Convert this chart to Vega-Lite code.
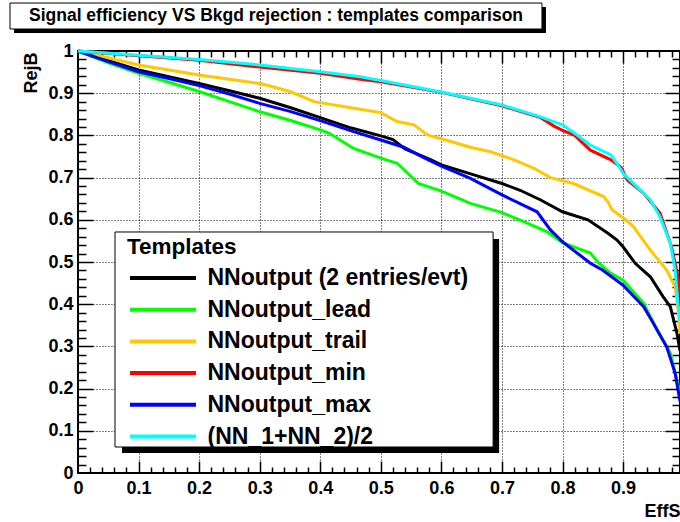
{
  "$schema": "https://vega.github.io/schema/vega-lite/v6.json",
  "width": 602,
  "height": 422,
  "autosize": {"type": "none"},
  "padding": {"left": 78, "top": 51, "right": 0, "bottom": 49},
  "background": "white",
  "config": {
    "font": "Liberation Sans",
    "view": {"stroke": "black", "strokeWidth": 2},
    "axis": {"labelFont": "Liberation Sans", "titleFont": "Liberation Sans", "labelColor": "black", "titleColor": "black"}
  },
  "title": {
    "text": "Signal efficiency VS Bkgd rejection : templates comparison",
    "anchor": "start",
    "frame": "group",
    "dx": -49,
    "offset": -36,
    "baseline": "alphabetic",
    "fontSize": 17.5,
    "font": "Liberation Sans",
    "fontWeight": "bold",
    "color": "black"
  },
  "data": {
    "values": [
      {"template": "NNoutput (2 entries/evt)", "EffS": 0, "RejB": 1},
      {"template": "NNoutput (2 entries/evt)", "EffS": 0.05, "RejB": 0.977},
      {"template": "NNoutput (2 entries/evt)", "EffS": 0.1, "RejB": 0.955},
      {"template": "NNoutput (2 entries/evt)", "EffS": 0.15, "RejB": 0.939},
      {"template": "NNoutput (2 entries/evt)", "EffS": 0.2, "RejB": 0.923},
      {"template": "NNoutput (2 entries/evt)", "EffS": 0.25, "RejB": 0.906},
      {"template": "NNoutput (2 entries/evt)", "EffS": 0.3, "RejB": 0.888},
      {"template": "NNoutput (2 entries/evt)", "EffS": 0.35, "RejB": 0.866},
      {"template": "NNoutput (2 entries/evt)", "EffS": 0.4, "RejB": 0.842},
      {"template": "NNoutput (2 entries/evt)", "EffS": 0.45, "RejB": 0.818},
      {"template": "NNoutput (2 entries/evt)", "EffS": 0.5, "RejB": 0.799},
      {"template": "NNoutput (2 entries/evt)", "EffS": 0.52, "RejB": 0.79},
      {"template": "NNoutput (2 entries/evt)", "EffS": 0.54, "RejB": 0.768},
      {"template": "NNoutput (2 entries/evt)", "EffS": 0.583, "RejB": 0.742},
      {"template": "NNoutput (2 entries/evt)", "EffS": 0.6, "RejB": 0.73},
      {"template": "NNoutput (2 entries/evt)", "EffS": 0.655, "RejB": 0.706},
      {"template": "NNoutput (2 entries/evt)", "EffS": 0.7, "RejB": 0.686},
      {"template": "NNoutput (2 entries/evt)", "EffS": 0.73, "RejB": 0.67},
      {"template": "NNoutput (2 entries/evt)", "EffS": 0.764, "RejB": 0.647},
      {"template": "NNoutput (2 entries/evt)", "EffS": 0.8, "RejB": 0.619},
      {"template": "NNoutput (2 entries/evt)", "EffS": 0.842, "RejB": 0.6},
      {"template": "NNoutput (2 entries/evt)", "EffS": 0.875, "RejB": 0.568},
      {"template": "NNoutput (2 entries/evt)", "EffS": 0.89, "RejB": 0.552},
      {"template": "NNoutput (2 entries/evt)", "EffS": 0.9, "RejB": 0.536},
      {"template": "NNoutput (2 entries/evt)", "EffS": 0.92, "RejB": 0.497},
      {"template": "NNoutput (2 entries/evt)", "EffS": 0.945, "RejB": 0.465},
      {"template": "NNoutput (2 entries/evt)", "EffS": 0.966, "RejB": 0.418},
      {"template": "NNoutput (2 entries/evt)", "EffS": 0.978, "RejB": 0.394},
      {"template": "NNoutput (2 entries/evt)", "EffS": 0.989, "RejB": 0.331},
      {"template": "NNoutput (2 entries/evt)", "EffS": 0.994, "RejB": 0.29},

      {"template": "NNoutput_lead", "EffS": 0, "RejB": 1},
      {"template": "NNoutput_lead", "EffS": 0.05, "RejB": 0.972},
      {"template": "NNoutput_lead", "EffS": 0.1, "RejB": 0.947},
      {"template": "NNoutput_lead", "EffS": 0.15, "RejB": 0.926},
      {"template": "NNoutput_lead", "EffS": 0.2, "RejB": 0.904},
      {"template": "NNoutput_lead", "EffS": 0.25, "RejB": 0.88},
      {"template": "NNoutput_lead", "EffS": 0.3, "RejB": 0.856},
      {"template": "NNoutput_lead", "EffS": 0.35, "RejB": 0.836},
      {"template": "NNoutput_lead", "EffS": 0.4, "RejB": 0.813},
      {"template": "NNoutput_lead", "EffS": 0.415, "RejB": 0.805},
      {"template": "NNoutput_lead", "EffS": 0.455, "RejB": 0.769},
      {"template": "NNoutput_lead", "EffS": 0.5, "RejB": 0.746},
      {"template": "NNoutput_lead", "EffS": 0.527, "RejB": 0.734},
      {"template": "NNoutput_lead", "EffS": 0.562, "RejB": 0.686},
      {"template": "NNoutput_lead", "EffS": 0.6, "RejB": 0.668},
      {"template": "NNoutput_lead", "EffS": 0.648, "RejB": 0.639},
      {"template": "NNoutput_lead", "EffS": 0.7, "RejB": 0.617},
      {"template": "NNoutput_lead", "EffS": 0.735, "RejB": 0.596},
      {"template": "NNoutput_lead", "EffS": 0.774, "RejB": 0.572},
      {"template": "NNoutput_lead", "EffS": 0.8, "RejB": 0.546},
      {"template": "NNoutput_lead", "EffS": 0.846, "RejB": 0.521},
      {"template": "NNoutput_lead", "EffS": 0.86, "RejB": 0.497},
      {"template": "NNoutput_lead", "EffS": 0.88, "RejB": 0.473},
      {"template": "NNoutput_lead", "EffS": 0.9, "RejB": 0.457},
      {"template": "NNoutput_lead", "EffS": 0.934, "RejB": 0.402},
      {"template": "NNoutput_lead", "EffS": 0.956, "RejB": 0.339},
      {"template": "NNoutput_lead", "EffS": 0.978, "RejB": 0.284},
      {"template": "NNoutput_lead", "EffS": 0.99, "RejB": 0.213},
      {"template": "NNoutput_lead", "EffS": 0.994, "RejB": 0.19},

      {"template": "NNoutput_trail", "EffS": 0, "RejB": 1},
      {"template": "NNoutput_trail", "EffS": 0.05, "RejB": 0.984},
      {"template": "NNoutput_trail", "EffS": 0.1, "RejB": 0.967},
      {"template": "NNoutput_trail", "EffS": 0.15, "RejB": 0.955},
      {"template": "NNoutput_trail", "EffS": 0.2, "RejB": 0.943},
      {"template": "NNoutput_trail", "EffS": 0.25, "RejB": 0.933},
      {"template": "NNoutput_trail", "EffS": 0.3, "RejB": 0.923},
      {"template": "NNoutput_trail", "EffS": 0.317, "RejB": 0.917},
      {"template": "NNoutput_trail", "EffS": 0.35, "RejB": 0.904},
      {"template": "NNoutput_trail", "EffS": 0.39, "RejB": 0.88},
      {"template": "NNoutput_trail", "EffS": 0.466, "RejB": 0.862},
      {"template": "NNoutput_trail", "EffS": 0.5, "RejB": 0.854},
      {"template": "NNoutput_trail", "EffS": 0.527, "RejB": 0.833},
      {"template": "NNoutput_trail", "EffS": 0.555, "RejB": 0.825},
      {"template": "NNoutput_trail", "EffS": 0.577, "RejB": 0.801},
      {"template": "NNoutput_trail", "EffS": 0.6, "RejB": 0.792},
      {"template": "NNoutput_trail", "EffS": 0.648, "RejB": 0.772},
      {"template": "NNoutput_trail", "EffS": 0.682, "RejB": 0.761},
      {"template": "NNoutput_trail", "EffS": 0.72, "RejB": 0.742},
      {"template": "NNoutput_trail", "EffS": 0.753, "RejB": 0.722},
      {"template": "NNoutput_trail", "EffS": 0.78, "RejB": 0.7},
      {"template": "NNoutput_trail", "EffS": 0.818, "RejB": 0.686},
      {"template": "NNoutput_trail", "EffS": 0.868, "RejB": 0.655},
      {"template": "NNoutput_trail", "EffS": 0.876, "RejB": 0.64},
      {"template": "NNoutput_trail", "EffS": 0.882, "RejB": 0.623},
      {"template": "NNoutput_trail", "EffS": 0.9, "RejB": 0.605},
      {"template": "NNoutput_trail", "EffS": 0.917, "RejB": 0.584},
      {"template": "NNoutput_trail", "EffS": 0.945, "RejB": 0.528},
      {"template": "NNoutput_trail", "EffS": 0.972, "RejB": 0.481},
      {"template": "NNoutput_trail", "EffS": 0.986, "RejB": 0.441},
      {"template": "NNoutput_trail", "EffS": 0.991, "RejB": 0.386},
      {"template": "NNoutput_trail", "EffS": 0.994, "RejB": 0.33},

      {"template": "NNoutput_min", "EffS": 0, "RejB": 1},
      {"template": "NNoutput_min", "EffS": 0.1, "RejB": 0.989},
      {"template": "NNoutput_min", "EffS": 0.2, "RejB": 0.978},
      {"template": "NNoutput_min", "EffS": 0.3, "RejB": 0.962},
      {"template": "NNoutput_min", "EffS": 0.4, "RejB": 0.947},
      {"template": "NNoutput_min", "EffS": 0.466, "RejB": 0.933},
      {"template": "NNoutput_min", "EffS": 0.5, "RejB": 0.927},
      {"template": "NNoutput_min", "EffS": 0.6, "RejB": 0.902},
      {"template": "NNoutput_min", "EffS": 0.7, "RejB": 0.87},
      {"template": "NNoutput_min", "EffS": 0.764, "RejB": 0.842},
      {"template": "NNoutput_min", "EffS": 0.786, "RejB": 0.822},
      {"template": "NNoutput_min", "EffS": 0.8, "RejB": 0.812},
      {"template": "NNoutput_min", "EffS": 0.82, "RejB": 0.8},
      {"template": "NNoutput_min", "EffS": 0.846, "RejB": 0.765},
      {"template": "NNoutput_min", "EffS": 0.88, "RejB": 0.742},
      {"template": "NNoutput_min", "EffS": 0.897, "RejB": 0.724},
      {"template": "NNoutput_min", "EffS": 0.907, "RejB": 0.694},
      {"template": "NNoutput_min", "EffS": 0.934, "RejB": 0.663},
      {"template": "NNoutput_min", "EffS": 0.961, "RejB": 0.616},
      {"template": "NNoutput_min", "EffS": 0.98, "RejB": 0.536},
      {"template": "NNoutput_min", "EffS": 0.99, "RejB": 0.47},
      {"template": "NNoutput_min", "EffS": 0.994, "RejB": 0.42},

      {"template": "NNoutput_max", "EffS": 0, "RejB": 1},
      {"template": "NNoutput_max", "EffS": 0.05, "RejB": 0.975},
      {"template": "NNoutput_max", "EffS": 0.1, "RejB": 0.951},
      {"template": "NNoutput_max", "EffS": 0.15, "RejB": 0.935},
      {"template": "NNoutput_max", "EffS": 0.2, "RejB": 0.918},
      {"template": "NNoutput_max", "EffS": 0.25, "RejB": 0.898},
      {"template": "NNoutput_max", "EffS": 0.3, "RejB": 0.876},
      {"template": "NNoutput_max", "EffS": 0.35, "RejB": 0.857},
      {"template": "NNoutput_max", "EffS": 0.4, "RejB": 0.835},
      {"template": "NNoutput_max", "EffS": 0.455, "RejB": 0.809},
      {"template": "NNoutput_max", "EffS": 0.5, "RejB": 0.789},
      {"template": "NNoutput_max", "EffS": 0.538, "RejB": 0.772},
      {"template": "NNoutput_max", "EffS": 0.57, "RejB": 0.748},
      {"template": "NNoutput_max", "EffS": 0.6, "RejB": 0.727},
      {"template": "NNoutput_max", "EffS": 0.648, "RejB": 0.698},
      {"template": "NNoutput_max", "EffS": 0.7, "RejB": 0.659},
      {"template": "NNoutput_max", "EffS": 0.758, "RejB": 0.619},
      {"template": "NNoutput_max", "EffS": 0.78, "RejB": 0.576},
      {"template": "NNoutput_max", "EffS": 0.8, "RejB": 0.548},
      {"template": "NNoutput_max", "EffS": 0.846, "RejB": 0.497},
      {"template": "NNoutput_max", "EffS": 0.866, "RejB": 0.481},
      {"template": "NNoutput_max", "EffS": 0.9, "RejB": 0.445},
      {"template": "NNoutput_max", "EffS": 0.934, "RejB": 0.394},
      {"template": "NNoutput_max", "EffS": 0.95, "RejB": 0.355},
      {"template": "NNoutput_max", "EffS": 0.972, "RejB": 0.299},
      {"template": "NNoutput_max", "EffS": 0.986, "RejB": 0.236},
      {"template": "NNoutput_max", "EffS": 0.994, "RejB": 0.17},

      {"template": "(NN_1+NN_2)/2", "EffS": 0, "RejB": 1},
      {"template": "(NN_1+NN_2)/2", "EffS": 0.1, "RejB": 0.99},
      {"template": "(NN_1+NN_2)/2", "EffS": 0.2, "RejB": 0.98},
      {"template": "(NN_1+NN_2)/2", "EffS": 0.3, "RejB": 0.967},
      {"template": "(NN_1+NN_2)/2", "EffS": 0.4, "RejB": 0.951},
      {"template": "(NN_1+NN_2)/2", "EffS": 0.466, "RejB": 0.939},
      {"template": "(NN_1+NN_2)/2", "EffS": 0.5, "RejB": 0.93},
      {"template": "(NN_1+NN_2)/2", "EffS": 0.6, "RejB": 0.903},
      {"template": "(NN_1+NN_2)/2", "EffS": 0.648, "RejB": 0.888},
      {"template": "(NN_1+NN_2)/2", "EffS": 0.7, "RejB": 0.872},
      {"template": "(NN_1+NN_2)/2", "EffS": 0.764, "RejB": 0.844},
      {"template": "(NN_1+NN_2)/2", "EffS": 0.8, "RejB": 0.825},
      {"template": "(NN_1+NN_2)/2", "EffS": 0.824, "RejB": 0.801},
      {"template": "(NN_1+NN_2)/2", "EffS": 0.846, "RejB": 0.777},
      {"template": "(NN_1+NN_2)/2", "EffS": 0.88, "RejB": 0.754},
      {"template": "(NN_1+NN_2)/2", "EffS": 0.897, "RejB": 0.718},
      {"template": "(NN_1+NN_2)/2", "EffS": 0.9, "RejB": 0.71},
      {"template": "(NN_1+NN_2)/2", "EffS": 0.945, "RejB": 0.647},
      {"template": "(NN_1+NN_2)/2", "EffS": 0.961, "RejB": 0.607},
      {"template": "(NN_1+NN_2)/2", "EffS": 0.978, "RejB": 0.544},
      {"template": "(NN_1+NN_2)/2", "EffS": 0.986, "RejB": 0.481},
      {"template": "(NN_1+NN_2)/2", "EffS": 0.99, "RejB": 0.41},
      {"template": "(NN_1+NN_2)/2", "EffS": 0.994, "RejB": 0.36}
    ]
  },
  "layer": [
    {
      "data": {"values": [{}]},
      "mark": {"type": "rect", "fill": "black"},
      "encoding": {
        "x": {"datum": -0.1057, "type": "quantitative", "scale": {"domain": [0, 0.994], "nice": false}, "axis": null},
        "x2": {"datum": 0.7727},
        "y": {"datum": 1.1043, "type": "quantitative", "scale": {"domain": [0, 1], "nice": false}, "axis": null},
        "y2": {"datum": 1.0427}
      }
    },
    {
      "data": {"values": [{}]},
      "mark": {"type": "rect", "fill": "white", "stroke": "black", "strokeWidth": 1},
      "encoding": {
        "x": {"datum": -0.1123, "type": "quantitative", "scale": {"domain": [0, 0.994], "nice": false}, "axis": null},
        "x2": {"datum": 0.7661},
        "y": {"datum": 1.1137, "type": "quantitative", "scale": {"domain": [0, 1], "nice": false}, "axis": null},
        "y2": {"datum": 1.0521}
      }
    },
    {
      "mark": {"type": "line", "strokeWidth": 3},
      "encoding": {
        "x": {
          "field": "EffS", "type": "quantitative",
          "scale": {"domain": [0, 0.994], "nice": false},
          "axis": {
            "orient": "bottom",
            "values": [0, 0.1, 0.2, 0.3, 0.4, 0.5, 0.6, 0.7, 0.8, 0.9],
            "format": "~g",
            "ticks": false, "domain": false,
            "grid": true, "gridColor": "black", "gridDash": [1, 2], "gridWidth": 1, "gridOpacity": 1,
            "labelFontSize": 18, "labelFontWeight": "bold", "labelPadding": 6,
            "labelFlush": false, "labelOverlap": false, "labelBound": false,
            "title": "EffS", "titleFontSize": 18, "titleFontWeight": "bold",
            "titleAnchor": "end", "titleAlign": "right", "titleBaseline": "alphabetic",
            "titleX": 602, "titleY": 43
          }
        },
        "y": {
          "field": "RejB", "type": "quantitative",
          "scale": {"domain": [0, 1], "nice": false},
          "axis": {
            "orient": "left",
            "values": [0, 0.1, 0.2, 0.3, 0.4, 0.5, 0.6, 0.7, 0.8, 0.9, 1],
            "format": "~g",
            "ticks": false, "domain": false,
            "grid": true, "gridColor": "black", "gridDash": [1, 2], "gridWidth": 1, "gridOpacity": 1,
            "labelFontSize": 18, "labelFontWeight": "bold", "labelPadding": 5,
            "labelFlush": false, "labelOverlap": false, "labelBound": false,
            "title": "RejB", "titleFontSize": 18, "titleFontWeight": "bold",
            "titleAngle": -90, "titleAlign": "right", "titleBaseline": "alphabetic",
            "titleX": -42, "titleY": 1
          }
        },
        "color": {
          "field": "template", "type": "nominal",
          "scale": {
            "domain": ["NNoutput (2 entries/evt)", "NNoutput_lead", "NNoutput_trail", "NNoutput_min", "NNoutput_max", "(NN_1+NN_2)/2"],
            "range": ["#000000", "#00ff00", "#ffc800", "#ff0000", "#0000ff", "#00ffff"]
          },
          "legend": {
            "orient": "none",
            "legendX": 49,
            "legendY": 185.3,
            "padding": 0,
            "fillColor": null,
            "strokeColor": null,
            "title": "Templates",
            "titleFont": "Liberation Sans",
            "titleFontSize": 22.5,
            "titleFontWeight": "bold",
            "titleColor": "black",
            "titlePadding": 7.7,
            "labelFont": "Liberation Sans",
            "labelFontSize": 23,
            "labelFontWeight": "bold",
            "labelColor": "black",
            "labelLimit": 500,
            "labelOffset": 33,
            "symbolType": "M-3.667,0H3.667",
            "symbolSize": 324,
            "symbolStrokeWidth": 4,
            "symbolOffset": 24.5,
            "rowPadding": 7.7
          }
        }
      }
    },
    {
      "data": {"values": [{}]},
      "mark": {"type": "rect", "fill": "black"},
      "encoding": {
        "x": {"datum": 0.0727, "type": "quantitative", "scale": {"domain": [0, 0.994], "nice": false}, "axis": null},
        "x2": {"datum": 0.6953},
        "y": {"datum": 0.5545, "type": "quantitative", "scale": {"domain": [0, 1], "nice": false}, "axis": null},
        "y2": {"datum": 0.0474}
      }
    },
    {
      "data": {"values": [{}]},
      "mark": {"type": "rect", "fill": "white", "stroke": "black", "strokeWidth": 1},
      "encoding": {
        "x": {"datum": 0.0611, "type": "quantitative", "scale": {"domain": [0, 0.994], "nice": false}, "axis": null},
        "x2": {"datum": 0.6854},
        "y": {"datum": 0.5711, "type": "quantitative", "scale": {"domain": [0, 1], "nice": false}, "axis": null},
        "y2": {"datum": 0.0616}
      }
    },
    {
      "mark": {"type": "point", "opacity": 0},
      "encoding": {
        "x": {"field": "EffS", "type": "quantitative", "scale": {"domain": [0, 0.994], "nice": false},
          "axis": {"orient": "bottom", "values": [0.1, 0.2, 0.3, 0.4, 0.5, 0.6, 0.7, 0.8, 0.9], "labels": false, "grid": false, "domain": false, "tickSize": -12, "tickColor": "black", "tickWidth": 1.5, "title": null}},
        "y": {"field": "RejB", "type": "quantitative", "scale": {"domain": [0, 1], "nice": false},
          "axis": {"orient": "left", "values": [0.1, 0.2, 0.3, 0.4, 0.5, 0.6, 0.7, 0.8, 0.9], "labels": false, "grid": false, "domain": false, "tickSize": -15, "tickColor": "black", "tickWidth": 1.5, "title": null}}
      }
    },
    {
      "mark": {"type": "point", "opacity": 0},
      "encoding": {
        "x": {"field": "EffS", "type": "quantitative", "scale": {"domain": [0, 0.994], "nice": false},
          "axis": {"orient": "bottom", "values": [0.02, 0.04, 0.06, 0.08, 0.12, 0.14, 0.16, 0.18, 0.22, 0.24, 0.26, 0.28, 0.32, 0.34, 0.36, 0.38, 0.42, 0.44, 0.46, 0.48, 0.52, 0.54, 0.56, 0.58, 0.62, 0.64, 0.66, 0.68, 0.72, 0.74, 0.76, 0.78, 0.82, 0.84, 0.86, 0.88, 0.92, 0.94, 0.96, 0.98], "labels": false, "grid": false, "domain": false, "tickSize": -6, "tickColor": "black", "tickWidth": 1.5, "title": null}},
        "y": {"field": "RejB", "type": "quantitative", "scale": {"domain": [0, 1], "nice": false},
          "axis": {"orient": "left", "values": [0.02, 0.04, 0.06, 0.08, 0.12, 0.14, 0.16, 0.18, 0.22, 0.24, 0.26, 0.28, 0.32, 0.34, 0.36, 0.38, 0.42, 0.44, 0.46, 0.48, 0.52, 0.54, 0.56, 0.58, 0.62, 0.64, 0.66, 0.68, 0.72, 0.74, 0.76, 0.78, 0.82, 0.84, 0.86, 0.88, 0.92, 0.94, 0.96, 0.98], "labels": false, "grid": false, "domain": false, "tickSize": -8, "tickColor": "black", "tickWidth": 1.5, "title": null}}
      }
    },
    {
      "mark": {"type": "point", "opacity": 0},
      "encoding": {
        "x": {"field": "EffS", "type": "quantitative", "scale": {"domain": [0, 0.994], "nice": false},
          "axis": {"orient": "top", "values": [0.1, 0.2, 0.3, 0.4, 0.5, 0.6, 0.7, 0.8, 0.9], "labels": false, "grid": false, "domain": false, "tickSize": -12, "tickColor": "black", "tickWidth": 1.5, "title": null}},
        "y": {"field": "RejB", "type": "quantitative", "scale": {"domain": [0, 1], "nice": false},
          "axis": {"orient": "right", "values": [0.1, 0.2, 0.3, 0.4, 0.5, 0.6, 0.7, 0.8, 0.9], "labels": false, "grid": false, "domain": false, "tickSize": -15, "tickColor": "black", "tickWidth": 1.5, "title": null}}
      }
    },
    {
      "mark": {"type": "point", "opacity": 0},
      "encoding": {
        "x": {"field": "EffS", "type": "quantitative", "scale": {"domain": [0, 0.994], "nice": false},
          "axis": {"orient": "top", "values": [0.02, 0.04, 0.06, 0.08, 0.12, 0.14, 0.16, 0.18, 0.22, 0.24, 0.26, 0.28, 0.32, 0.34, 0.36, 0.38, 0.42, 0.44, 0.46, 0.48, 0.52, 0.54, 0.56, 0.58, 0.62, 0.64, 0.66, 0.68, 0.72, 0.74, 0.76, 0.78, 0.82, 0.84, 0.86, 0.88, 0.92, 0.94, 0.96, 0.98], "labels": false, "grid": false, "domain": false, "tickSize": -6, "tickColor": "black", "tickWidth": 1.5, "title": null}},
        "y": {"field": "RejB", "type": "quantitative", "scale": {"domain": [0, 1], "nice": false},
          "axis": {"orient": "right", "values": [0.02, 0.04, 0.06, 0.08, 0.12, 0.14, 0.16, 0.18, 0.22, 0.24, 0.26, 0.28, 0.32, 0.34, 0.36, 0.38, 0.42, 0.44, 0.46, 0.48, 0.52, 0.54, 0.56, 0.58, 0.62, 0.64, 0.66, 0.68, 0.72, 0.74, 0.76, 0.78, 0.82, 0.84, 0.86, 0.88, 0.92, 0.94, 0.96, 0.98], "labels": false, "grid": false, "domain": false, "tickSize": -8, "tickColor": "black", "tickWidth": 1.5, "title": null}}
      }
    }
  ],
  "resolve": {"axis": {"x": "independent", "y": "independent"}}
}
